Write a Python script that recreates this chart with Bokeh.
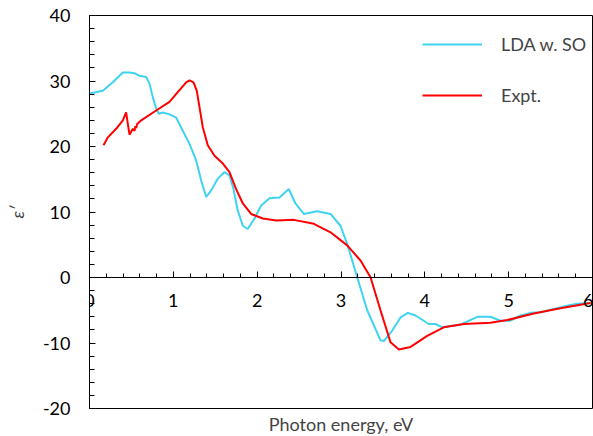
from bokeh.plotting import figure
from bokeh.models import (LinearAxis, SingleIntervalTicker, Range1d, Legend, LegendItem, Title,
                          PrintfTickFormatter)
from bokeh.embed import file_html
from bokeh.resources import INLINE

FONT = "Lato"

lda_x = [0.0, 0.159, 0.278, 0.398, 0.477, 0.537, 0.596, 0.676, 0.716, 0.756, 0.795, 0.827, 0.875, 0.954,
         1.034, 1.113, 1.193, 1.272, 1.332, 1.392, 1.452, 1.531, 1.610, 1.670, 1.718, 1.769, 1.829, 1.888,
         1.968, 2.048, 2.147, 2.266, 2.378, 2.457, 2.556, 2.716, 2.875, 2.994, 3.074, 3.134, 3.193, 3.313,
         3.471, 3.511, 3.611, 3.710, 3.797, 3.889, 4.047, 4.127, 4.207, 4.426, 4.625, 4.783, 4.903, 5.022,
         5.141, 5.261, 5.380, 5.539, 5.698, 5.818, 5.976]
lda_y = [28.1, 28.5, 29.8, 31.3, 31.3, 31.2, 30.8, 30.6, 29.6, 27.5, 25.8, 25.0, 25.2, 24.9,
         24.4, 22.4, 20.4, 17.9, 14.8, 12.3, 13.3, 15.1, 16.1, 15.6, 13.5, 10.2, 7.9, 7.4,
         9.0, 11.0, 12.1, 12.2, 13.5, 11.3, 9.7, 10.1, 9.7, 7.9, 5.1, 2.6, 0.05, -5.0,
         -9.6, -9.7, -8.1, -6.1, -5.4, -5.8, -7.1, -7.1, -7.6, -7.2, -6.0, -6.0, -6.6, -6.6,
         -5.8, -5.4, -5.3, -4.8, -4.3, -4.0, -3.9]

expt_x = [0.167, 0.219, 0.318, 0.398, 0.437, 0.457, 0.477, 0.517, 0.537, 0.547, 0.557, 0.567, 0.617,
          0.795, 0.954, 1.053, 1.153, 1.193, 1.241, 1.280, 1.312, 1.352, 1.411, 1.491, 1.591, 1.670,
          1.749, 1.829, 1.928, 2.068, 2.227, 2.437, 2.676, 2.875, 3.074, 3.233, 3.352, 3.471, 3.591,
          3.690, 3.830, 4.028, 4.226, 4.465, 4.783, 4.983, 5.300, 5.618, 5.976]
expt_y = [20.2, 21.4, 22.7, 24.0, 25.2, 23.5, 21.8, 22.7, 22.4, 23.1, 22.8, 23.4, 24.0,
          25.5, 26.8, 28.3, 29.8, 30.1, 29.8, 28.5, 26.0, 22.9, 20.2, 18.6, 17.4, 16.1,
          13.5, 11.3, 9.7, 9.0, 8.7, 8.8, 8.2, 6.9, 4.9, 2.6, 0.05, -5.0, -9.9,
          -11.0, -10.6, -8.9, -7.6, -7.1, -6.9, -6.5, -5.5, -4.7, -3.9]

p = figure(width=593, height=436, output_backend="svg", toolbar_location=None,
           x_range=Range1d(0, 6), y_range=Range1d(-20, 40),
           x_axis_location=None, y_axis_location=None,
           min_border_left=89, min_border_right=1, min_border_top=15, min_border_bottom=28)
p.grid.visible = False
p.outline_line_color = "black"
p.outline_line_width = 1
p.background_fill_color = "white"
p.border_fill_color = "white"

yax = LinearAxis(ticker=SingleIntervalTicker(interval=10, num_minor_ticks=5),
                 formatter=PrintfTickFormatter(format="%d"))
yax.major_tick_in = 6
yax.major_tick_out = 0
yax.minor_tick_in = 5
yax.minor_tick_out = 0
yax.major_label_standoff = 19
yax.major_label_text_font = FONT
yax.major_label_text_font_size = "18px"
yax.major_label_text_color = "black"
yax.axis_label = "ε′"
yax.axis_label_text_font = FONT
yax.axis_label_text_font_size = "18px"
yax.axis_label_text_font_style = "italic"
yax.axis_label_standoff = 12
yax.axis_line_color = "black"
p.add_layout(yax, "left")

xax = LinearAxis(ticker=SingleIntervalTicker(interval=1, num_minor_ticks=5), fixed_location=0,
                 formatter=PrintfTickFormatter(format="%d"))
xax.major_tick_in = 6
xax.major_tick_out = 0
xax.minor_tick_in = 4
xax.minor_tick_out = 0
xax.major_label_standoff = 16
xax.major_label_text_font = FONT
xax.major_label_text_font_size = "18px"
xax.major_label_text_color = "black"
xax.axis_line_color = "black"
p.add_layout(xax, "below")

p.add_layout(Title(text="Photon energy, eV", align="center", text_font=FONT,
                   text_font_size="18px", text_font_style="normal", standoff=4), "below")

r1 = p.line(lda_x, lda_y, line_color="#3FD3F2", line_width=2)
r2 = p.line(expt_x, expt_y, line_color="#FF0000", line_width=2)

legend = Legend(items=[LegendItem(label="LDA w. SO", renderers=[r1]),
                       LegendItem(label="Expt.", renderers=[r2])],
                location=(333, 302), padding=0, margin=0, spacing=29,
                glyph_width=60, glyph_height=20, label_height=20, label_standoff=19,
                label_text_font=FONT, label_text_font_size="18px",
                border_line_color=None, background_fill_alpha=0)
p.add_layout(legend)

open("out.html", "w").write(file_html(p, INLINE))
